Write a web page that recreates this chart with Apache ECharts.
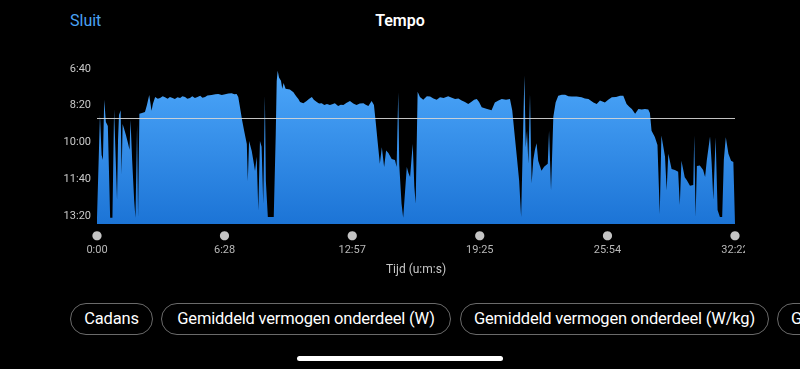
<!DOCTYPE html>
<html>
<head>
<meta charset="utf-8">
<script src="https://cdn.jsdelivr.net/npm/echarts@6/dist/echarts.min.js"></script>
<style>
  html, body { margin:0; padding:0; background:#000; }
  body { width:800px; height:369px; overflow:hidden; position:relative; font-family: Roboto, "Noto Sans", sans-serif; }
  #chart { position:absolute; left:0; top:0; width:745px; height:290px; }
  .hdr { position:absolute; top:10px; font-size:16px; line-height:22px; }
  #sluit { left:70px; color:#4aa3f5; }
  #title { left:0; width:800px; text-align:center; color:#fff; font-weight:600; }
  .btn { position:absolute; top:303px; height:32px; box-sizing:border-box; border:1px solid #6a6a6a; border-radius:16px;
         color:#fff; font-size:16.5px; line-height:30px; text-align:center; white-space:nowrap; overflow:hidden; letter-spacing:-0.2px; }
  #home { position:absolute; left:297px; top:356px; width:206px; height:5px; border-radius:3px; background:#fff; }
</style>
</head>
<body>
<div id="sluit" class="hdr">Sluit</div>
<div id="title" class="hdr">Tempo</div>
<div id="chart"></div>
<div class="btn" style="left:70px;width:83px;">Cadans</div>
<div class="btn" style="left:161px;width:290px;">Gemiddeld vermogen onderdeel (W)</div>
<div class="btn" style="left:460px;width:309px;">Gemiddeld vermogen onderdeel (W/kg)</div>
<div class="btn" style="left:777px;width:200px;text-align:left;padding-left:13px;">Gemiddelde hartslag</div>
<div id="home"></div>
<script>
// Pace (seconds per km) against elapsed time (seconds)
const warmup = [[0,805],[6,805],[9,525],[14,634],[18,648],[22,484],[27,544],[33,555],[40,805],[47,805],[52,509],[56,620],[61,756],[64,593],[67,525],[72,512],[75,688],[78,550],[82,561],[88,580],[94,601],[99,620],[102,539],[107,648],[113,756],[117,805],[122,552],[125,805],[129,522],[137,520],[146,517],[152,498],[159,471],[166,514],[170,495],[177,476],[185,481],[192,479],[200,474],[207,477],[215,481],[222,476],[230,479],[237,482],[245,477],[253,479],[260,474],[268,476],[275,481],[283,479],[290,474],[298,479],[306,476],[314,473],[321,478],[329,476]];
const rest1 = [[336,472],[349,471],[360,469],[369,468],[380,471],[390,469],[400,467],[410,466],[418,469],[425,468],[430,476],[435,503],[442,541],[448,569],[456,604],[459,705],[463,596],[471,623],[476,650],[481,678],[486,639],[491,786],[496,596],[501,612],[506,767],[511,473],[514,705],[520,803],[538,803],[544,580],[547,433],[550,405]];
const run2 = [[554,423],[560,432],[564,454],[568,438],[574,454],[580,452],[587,456],[593,452],[598,463],[603,470],[608,476],[613,482],[618,490],[623,491],[628,493],[633,488],[638,487],[645,482],[654,476],[660,484],[669,490],[676,494],[684,493],[692,498],[700,495],[709,498],[716,496],[724,493],[734,501],[742,497],[750,498],[760,492],[770,487],[780,494],[790,498],[800,494],[811,493],[818,497],[826,501],[836,487],[843,498]];
const rest2 = [[848,541],[854,596],[861,658],[867,613],[874,667],[880,622],[887,629],[897,645],[907,648],[912,667],[917,463],[920,661],[927,767],[932,805],[938,805],[943,667],[948,683],[953,694],[961,604],[966,721],[970,767],[976,462],[983,476],[993,484]];
const run3 = [[1004,474],[1014,475],[1024,480],[1034,484],[1044,477],[1055,479],[1069,474],[1080,478],[1090,482],[1100,480],[1110,486],[1120,490],[1130,495],[1140,489],[1148,484],[1156,482],[1163,490],[1171,504],[1185,508],[1201,512],[1211,491],[1222,486],[1232,482],[1245,484],[1257,482],[1264,513],[1270,568],[1277,631],[1285,704],[1291,803],[1295,803]];
const rest3 = [[1301,418],[1305,613],[1309,568],[1313,658],[1318,468],[1323,711],[1328,648],[1333,620],[1338,602],[1343,650],[1353,677],[1361,666],[1372,658],[1376,568],[1382,731],[1389,530],[1396,491],[1404,473]];
const run4 = [[1415,470],[1425,470],[1435,474],[1445,475],[1460,475],[1475,477],[1485,480],[1496,482],[1511,491],[1521,495],[1531,486],[1546,491],[1556,484],[1567,477],[1580,476],[1592,473],[1602,473],[1612,495],[1620,503],[1628,509],[1638,522],[1648,509],[1658,510],[1668,509],[1678,510],[1683,520]];
const cooldown = [[1688,568],[1698,585],[1706,607],[1713,795],[1718,581],[1729,639],[1734,731],[1739,631],[1744,629],[1749,672],[1759,675],[1769,680],[1774,770],[1779,650],[1789,695],[1795,702],[1805,718],[1810,718],[1815,716],[1818,581],[1822,803],[1826,664],[1835,663],[1845,675],[1851,694],[1856,650],[1866,584],[1871,658],[1876,756],[1883,586],[1889,784],[1896,803],[1903,803],[1908,648],[1914,586],[1922,631],[1930,650],[1937,653],[1942,656]];

const avgPaceSec = 533;
const yTickSec = [400, 500, 600, 700, 800];
const xTickSec = [0, 388.4, 776.8, 1165.2, 1553.6, 1942];
const xTickLabels = ['0:00', '6:28', '12:57', '19:25', '25:54', '32:22'];
const xAxisName = 'Tijd (u:m:s)';

const paceData = [].concat(warmup, rest1, run2, rest2, run3, rest3, run4, cooldown);

function mmss(s) {
  const m = Math.floor(s / 60), r = Math.round(s - m * 60);
  return m + ':' + (r < 10 ? '0' : '') + r;
}

const chart = echarts.init(document.getElementById('chart'), null, { renderer: 'canvas' });
chart.setOption({
  animation: false,
  backgroundColor: 'transparent',
  grid: { left: 97, right: 10, top: 69, height: 155, containLabel: false, outerBoundsMode: 'none' },
  xAxis: {
    type: 'value', min: 0, max: 1942,
    name: xAxisName, nameLocation: 'middle', nameGap: 40,
    nameTextStyle: { color: '#c8c8c8', fontSize: 12, fontFamily: 'Roboto' },
    axisLine: { show: false }, axisTick: { show: false }, splitLine: { show: false },
    axisLabel: {
      customValues: xTickSec,
      margin: 6,
      hideOverlap: false,
      formatter: function (v) {
        let i = 0, best = Infinity;
        xTickSec.forEach((t, k) => { if (Math.abs(t - v) < best) { best = Math.abs(t - v); i = k; } });
        return '{d|●}\n{t|' + xTickLabels[i] + '}';
      },
      rich: {
        d: { fontSize: 12, color: '#c4c4c4', lineHeight: 12, fontFamily: 'DejaVu Sans' },
        t: { fontSize: 11, color: '#b8b8b8', lineHeight: 16, fontFamily: 'Roboto' }
      }
    }
  },
  yAxis: {
    type: 'value', inverse: true, min: 400, max: 822,
    axisLine: { show: false }, axisTick: { show: false }, splitLine: { show: false },
    axisLabel: {
      customValues: yTickSec,
      margin: 6, color: '#c8c8c8', fontSize: 11, fontFamily: 'Roboto',
      formatter: function (v) { return mmss(v); }
    }
  },
  series: [{
    type: 'line',
    data: paceData,
    showSymbol: false,
    symbol: 'none',
    lineStyle: { width: 0 },
    areaStyle: {
      origin: 'end',
      opacity: 1,
      color: new echarts.graphic.LinearGradient(0, 0, 0, 1, [
        { offset: 0, color: '#4da7fa' },
        { offset: 1, color: '#1c74d6' }
      ])
    },
    markLine: {
      silent: true,
      symbol: 'none',
      label: { show: false },
      lineStyle: { color: '#d6d6d6', width: 1, type: 'solid', opacity: 0.9 },
      data: [{ yAxis: avgPaceSec }]
    }
  }]
});
</script>
</body>
</html>
